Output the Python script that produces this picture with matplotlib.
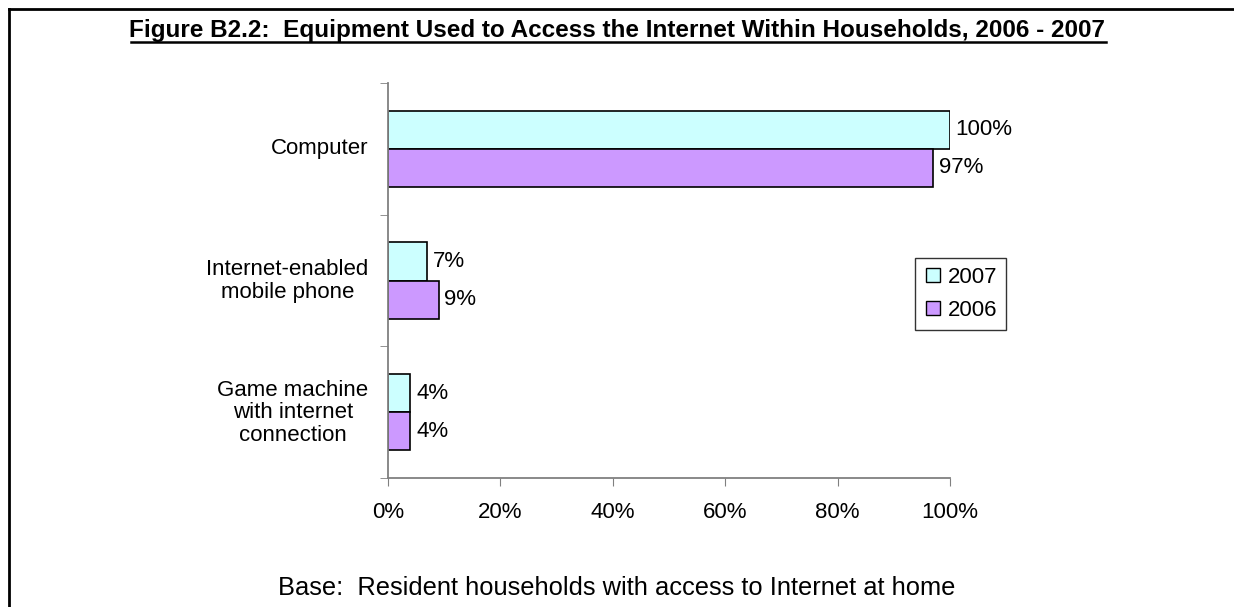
import numpy as np
import matplotlib.pyplot as plt
from matplotlib.lines import Line2D

plt.rcParams["font.family"] = ["Liberation Sans", "DejaVu Sans"]

categories = ["Computer", "Internet-enabled\nmobile phone", "Game machine\nwith internet\nconnection"]
pct_2007 = [100, 7, 4]
pct_2006 = [97, 9, 4]
series_names = ["2007", "2006"]
colors = ["#CCFFFF", "#CC99FF"]

fs = 16

fig = plt.figure(figsize=(12.34, 6.07), dpi=100)
ax = fig.add_axes([388 / 1234, 1 - 478 / 607, (950 - 388) / 1234, (478 - 83) / 607])

y = np.arange(len(categories))
h = 0.29
ax.barh(y - h / 2, pct_2007, height=h, color=colors[0], edgecolor="black", linewidth=1.2, label=series_names[0])
ax.barh(y + h / 2, pct_2006, height=h, color=colors[1], edgecolor="black", linewidth=1.2, label=series_names[1])

for yy, v in zip(y - h / 2, pct_2007):
    ax.annotate(f"{v}%", (v, yy), xytext=(4, 0), textcoords="offset points",
                va="center", ha="left", fontsize=fs)
for yy, v in zip(y + h / 2, pct_2006):
    ax.annotate(f"{v}%", (v, yy), xytext=(4, 0), textcoords="offset points",
                va="center", ha="left", fontsize=fs)

ax.set_xlim(0, 100)
ax.set_ylim(2.5, -0.5)
ax.set_xticks(np.arange(0, 101, 20))
ax.set_xticklabels([f"{t}%" for t in range(0, 101, 20)], fontsize=fs)
ax.set_yticks(y - 0.02)
ax.set_yticklabels(categories, fontsize=fs, multialignment="center", linespacing=1.1)
ax.tick_params(axis="y", length=0, pad=14)
ax.set_yticks([-0.5, 0.5, 1.5, 2.5], minor=True)
ax.tick_params(axis="y", which="minor", length=6, color="#808080")
ax.tick_params(axis="x", length=6, color="#808080", pad=11)
for s in ["top", "right"]:
    ax.spines[s].set_visible(False)
for s in ["left", "bottom"]:
    ax.spines[s].set_color("#808080")
    ax.spines[s].set_linewidth(1.3)

handles = [Line2D([], [], marker="s", linestyle="none", markersize=10,
                  markerfacecolor=c, markeredgecolor="black", markeredgewidth=1) for c in colors]
leg = ax.legend(handles, series_names, loc="upper left", bbox_to_anchor=(0.938, 0.557),
                fontsize=fs, frameon=True, fancybox=False, handletextpad=0.25,
                handlelength=0.8, borderpad=0.4, labelspacing=0.55, borderaxespad=0)
leg.get_frame().set_edgecolor("black")
leg.get_frame().set_linewidth(1)

fig.text(0.5, 1 - 30 / 607, "Figure B2.2:  Equipment Used to Access the Internet Within Households, 2006 - 2007",
         ha="center", va="center", fontsize=17.5, fontweight="bold")
# underline under the title
fig.add_artist(Line2D([131 / 1234, 1106 / 1234], [1 - 42 / 607, 1 - 42 / 607], color="black", linewidth=1.8))
fig.text(0.5, 1 - 588 / 607, "Base:  Resident households with access to Internet at home",
         ha="center", va="center", fontsize=18.4)

# outer frame (left and top edges)
fig.add_artist(Line2D([9 / 1234, 9 / 1234], [0, 1 - 9 / 607], color="black", linewidth=2))
fig.add_artist(Line2D([9 / 1234, 1], [1 - 9 / 607, 1 - 9 / 607], color="black", linewidth=2))

fig.savefig("out.png", dpi=100)
